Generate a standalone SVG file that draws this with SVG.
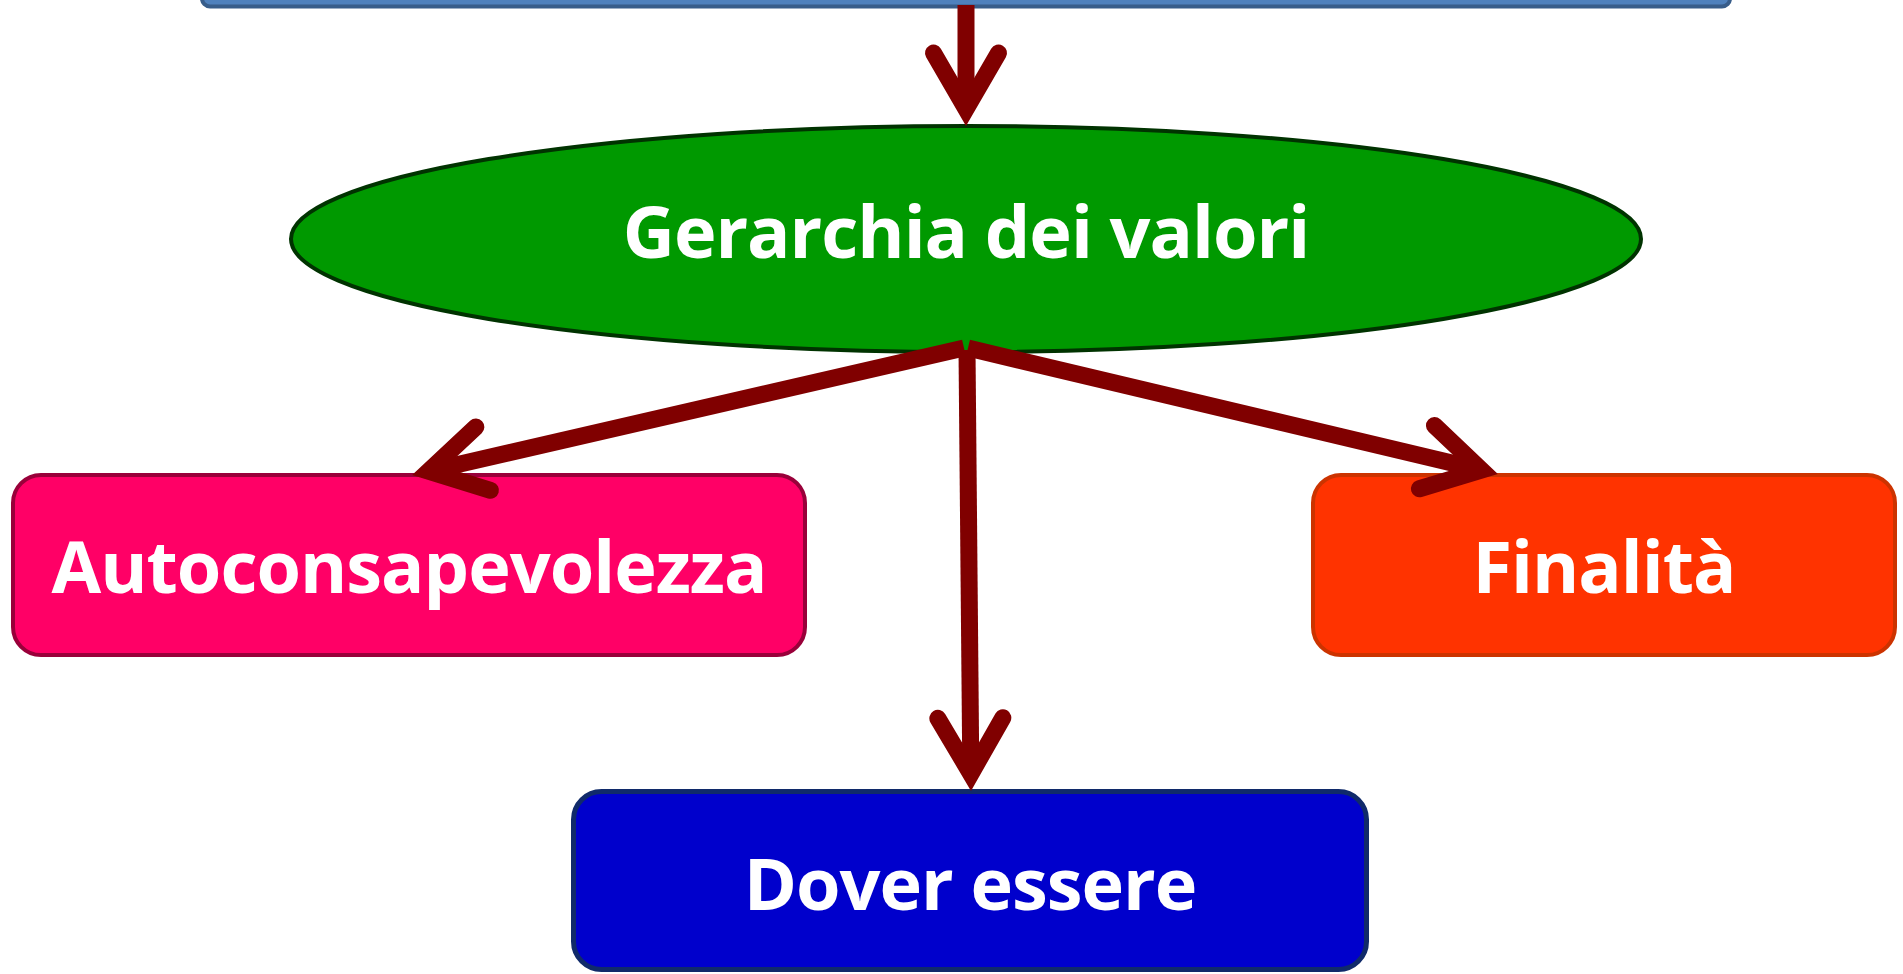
<svg xmlns="http://www.w3.org/2000/svg" width="1903" height="974" viewBox="0 0 1903 974">
<style>
.lbl{font-family:"Open Sans","Noto Sans","Liberation Sans",sans-serif;font-weight:bold;fill:#ffffff;text-anchor:middle;font-size:72px;letter-spacing:-1px}
.con{fill:none;stroke:#800000;stroke-width:17;stroke-linecap:butt;marker-end:url(#ah)}
</style>
<defs>
<marker id="ah" markerUnits="userSpaceOnUse" orient="auto" refX="0" refY="0" markerWidth="200" markerHeight="200" viewBox="-100 -100 200 200" overflow="visible">
<path d="M-56,-32.5 L0,0 L-56,32.5" fill="none" stroke="#800000" stroke-width="17" stroke-linecap="round" stroke-linejoin="miter"/>
</marker>
</defs>
<rect width="1903" height="974" fill="#ffffff"/>
<g id="top-box">
<rect x="202" y="-100" width="1528" height="106.5" rx="8" fill="#4F81BD" stroke="#385D8A" stroke-width="4"/>
</g>
<g id="gerarchia">
<ellipse cx="966" cy="239" rx="675" ry="113" fill="#009900" stroke="#003300" stroke-width="4"/>
<text class="lbl" x="966" y="258">Gerarchia dei valori</text>
</g>
<g id="autoconsapevolezza">
<rect x="13" y="475" width="792" height="180" rx="28" fill="#FF0066" stroke="#99003A" stroke-width="4"/>
<text class="lbl" x="409" y="593">Autoconsapevolezza</text>
</g>
<g id="finalita">
<rect x="1313" y="475" width="582" height="180" rx="28" fill="#FF3300" stroke="#CC3300" stroke-width="4"/>
<text class="lbl" x="1604" y="593">Finalità</text>
</g>
<g id="dover-essere">
<rect x="573.5" y="791.5" width="793" height="178" rx="28" fill="#0000CC" stroke="#102A6A" stroke-width="5"/>
<text class="lbl" x="970" y="910">Dover essere</text>
</g>
<g id="connectors">
<path class="con" d="M966,5 L966,109"/>
<path class="con" d="M964,348 L428.6,471.2"/>
<path class="con" d="M968,348 L1481.4,470.1"/>
<path class="con" d="M967,350 L970.85,774"/>
</g>
</svg>
